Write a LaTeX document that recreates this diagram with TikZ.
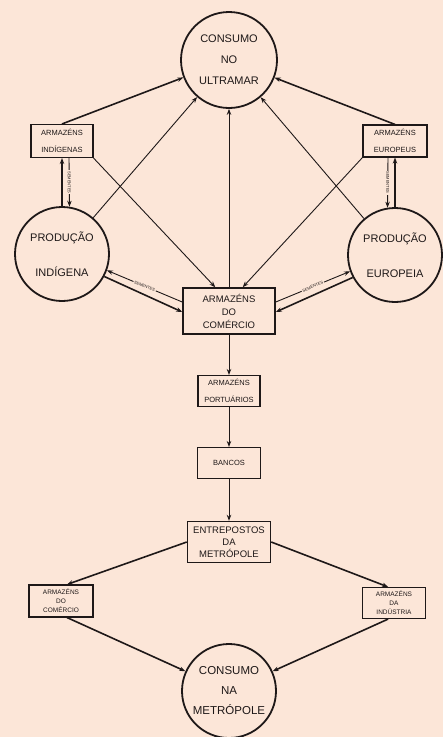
\documentclass[tikz,border=0pt]{standalone}
\usepackage{fontspec}
\setsansfont{Liberation Sans}
\usetikzlibrary{arrows.meta}

\definecolor{papel}{RGB}{252,230,216}
\definecolor{tinta}{RGB}{30,24,24}

\tikzset{
  >={Stealth[length=6pt,width=4.5pt]},
  roda/.style={circle,draw=tinta,line width=1.8pt,minimum size=94pt,inner sep=0pt,align=center,text=tinta},
  caixa/.style={rectangle,draw=tinta,line width=1.1pt,inner sep=0pt,align=center,text=tinta},
  grosso/.style={->,draw=tinta,line width=1.6pt},
  fino/.style={->,draw=tinta,line width=0.9pt},
  semente/.style={fill=papel,inner sep=1pt,text=tinta,font=\sffamily\fontsize{4}{4}\selectfont},
}

\begin{document}
\begin{tikzpicture}[x=1pt,y=-1pt]
\fill[papel] (0,0) rectangle (443,737);
\useasboundingbox (0,0) rectangle (443,737);

% circulos
\node[roda,minimum size=96pt,font=\sffamily\fontsize{11}{21}\selectfont] (cu) at (229,60) {CONSUMO\\NO\\ULTRAMAR};
\node[roda,font=\sffamily\fontsize{11}{35}\selectfont] (pi) at (62,254) {PRODUÇÃO\\INDÍGENA};
\node[roda,font=\sffamily\fontsize{11}{35}\selectfont] (pe) at (395,255) {PRODUÇÃO\\EUROPEIA};
\node[roda,font=\sffamily\fontsize{11.5}{20}\selectfont] (cm) at (229,691) {CONSUMO\\NA\\METRÓPOLE};

% armazens
\node[caixa,minimum width=62pt,minimum height=33pt,font=\sffamily\fontsize{7.5}{17}\selectfont] (ai) at (62,141) {ARMAZÉNS\\INDÍGENAS};
\node[caixa,minimum width=64pt,minimum height=32pt,font=\sffamily\fontsize{7.5}{17}\selectfont] (ae) at (395,141) {ARMAZÉNS\\EUROPEUS};
\node[caixa,line width=1.5pt,minimum width=92pt,minimum height=46pt,font=\sffamily\fontsize{9.5}{13}\selectfont] (ac) at (229,311) {ARMAZÉNS\\DO\\COMÉRCIO};
\node[caixa,minimum width=62pt,minimum height=31pt,font=\sffamily\fontsize{7.5}{17}\selectfont] (ap) at (229,391) {ARMAZÉNS\\PORTUÁRIOS};
\node[caixa,minimum width=63pt,minimum height=31pt,font=\sffamily\fontsize{7.5}{8}\selectfont] (ba) at (229,463) {BANCOS};
\node[caixa,line width=1.4pt,minimum width=83pt,minimum height=41pt,font=\sffamily\fontsize{9.5}{12}\selectfont] (em) at (229,542) {ENTREPOSTOS\\DA\\METRÓPOLE};
\node[caixa,minimum width=64pt,minimum height=32pt,font=\sffamily\fontsize{6.5}{9}\selectfont] (ac2) at (61,601) {ARMAZÉNS\\DO\\COMÉRCIO};
\node[caixa,minimum width=63pt,minimum height=31pt,font=\sffamily\fontsize{6.5}{9}\selectfont] (aind) at (394,603) {ARMAZÉNS\\DA\\INDÚSTRIA};

% para o consumo no ultramar
\draw[grosso] (ai.north) -- (cu);
\draw[grosso] (ae.north) -- (cu);
\draw[fino] (pi) -- (cu);
\draw[fino] (pe) -- (cu);
\draw[fino] (ac) -- (cu);

\draw[fino] (ai.south east) -- (ac.120);
\draw[fino] (ae.south west) -- (ac.60);

% producao <-> armazens
\draw[grosso] (pi.north) -- (ai.south);
\draw[fino] ([xshift=7pt]ai.south) -- node[semente,rotate=-90] {SEMENTES} (pi.81);
\draw[grosso] (pe.north) -- (ae.south);
\draw[fino] ([xshift=-7pt]ae.south) -- node[semente,rotate=-90] {SEMENTES} (pe.99);

\draw[fino] ([yshift=9pt]ac.west) -- node[semente,sloped] {SEMENTES} (pi.-20);
\draw[grosso] (pi.-28) -- ([yshift=-1pt]ac.west);
\draw[fino] ([yshift=9pt]ac.east) -- node[semente,sloped] {SEMENTES} (pe.200);
\draw[grosso] (pe.208) -- ([yshift=-1pt]ac.east);

% metropole
\draw[fino] (ac) -- (ap);
\draw[fino] (ap) -- (ba);
\draw[fino] (ba) -- (em);
\draw[grosso] (em.west) -- (ac2.70);
\draw[grosso] (em.east) -- (aind.110);
\draw[grosso] (ac2.-70) -- (cm);
\draw[grosso] (aind.-110) -- (cm);

\end{tikzpicture}
\end{document}
